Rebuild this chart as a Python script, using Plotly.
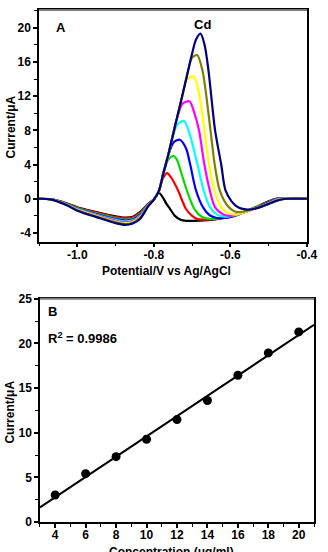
import numpy as np
import plotly.graph_objects as go

# ---------------- Panel A: voltammograms ----------------
x_black = [-1.1, -1.07, -1.03, -1.0, -0.95, -0.9, -0.875, -0.855, -0.835, -0.815, -0.8, -0.787, -0.777, -0.767, -0.757, -0.745, -0.73, -0.715, -0.68, -0.64, -0.6, -0.57, -0.545, -0.52, -0.5, -0.482, -0.47, -0.455, -0.4]
y_black = [0, -0.05, -0.5, -1.0, -1.55, -2.05, -2.2, -2.1, -1.5, -0.6, -0.05, 0.7, 0.2, -0.6, -1.23, -2.0, -2.45, -2.58, -2.55, -2.4, -2.1, -1.65, -1.2, -0.7, -0.3, 0.0, 0.05, 0.0, 0]

x_red = [-1.1, -1.07, -1.03, -1.0, -0.95, -0.9, -0.875, -0.855, -0.835, -0.815, -0.8, -0.787, -0.777, -0.766, -0.755, -0.737, -0.716, -0.7, -0.686, -0.65, -0.61, -0.575, -0.545, -0.52, -0.5, -0.48, -0.467, -0.455, -0.4]
y_red = [0, -0.05, -0.52, -1.05, -1.62, -2.15, -2.3, -2.2, -1.6, -0.64, -0.1, 0.9, 2.3, 3.0, 2.5, 1.0, -1.2, -2.0, -2.38, -2.4, -2.15, -1.7, -1.22, -0.75, -0.35, 0.0, 0.04, 0.0, 0]

x_green = [-1.1, -1.07, -1.03, -1.0, -0.95, -0.9, -0.875, -0.855, -0.835, -0.815, -0.8, -0.787, -0.775, -0.762, -0.749, -0.74, -0.735, -0.714, -0.694, -0.675, -0.655, -0.62, -0.58, -0.55, -0.52, -0.5, -0.478, -0.465, -0.452, -0.4]
y_green = [0, -0.06, -0.56, -1.12, -1.72, -2.28, -2.45, -2.33, -1.73, -0.69, -0.1, 0.9, 3.0, 4.6, 5.0, 4.6, 4.0, 1.0, -1.2, -2.1, -2.35, -2.25, -1.8, -1.27, -0.8, -0.4, 0.0, 0.03, 0.0, 0]

x_blue = [-1.1, -1.07, -1.03, -1.0, -0.95, -0.9, -0.875, -0.855, -0.835, -0.815, -0.8, -0.787, -0.775, -0.763, -0.748, -0.732, -0.716, -0.705, -0.69, -0.671, -0.655, -0.635, -0.6, -0.57, -0.545, -0.52, -0.5, -0.476, -0.462, -0.45, -0.4]
y_blue = [0, -0.06, -0.58, -1.16, -1.8, -2.38, -2.55, -2.43, -1.83, -0.72, -0.1, 0.9, 3.0, 5.0, 6.6, 6.9, 5.9, 4.0, 1.0, -1.04, -1.9, -2.25, -2.15, -1.7, -1.25, -0.85, -0.45, -0.02, 0.02, 0.0, 0]

x_cyan = [-1.1, -1.07, -1.03, -1.0, -0.95, -0.9, -0.875, -0.855, -0.835, -0.815, -0.8, -0.787, -0.775, -0.763, -0.753, -0.738, -0.721, -0.706, -0.686, -0.67, -0.653, -0.635, -0.615, -0.585, -0.56, -0.54, -0.52, -0.5, -0.475, -0.46, -0.45, -0.4]
y_cyan = [0, -0.06, -0.61, -1.21, -1.87, -2.47, -2.65, -2.52, -1.92, -0.76, -0.1, 0.9, 3.0, 5.0, 6.9, 8.7, 9.1, 7.5, 4.0, 1.0, -1.0, -1.85, -2.1, -1.9, -1.5, -1.2, -0.88, -0.5, -0.05, 0.01, 0.0, 0]

x_magenta = [-1.1, -1.07, -1.03, -1.0, -0.95, -0.9, -0.875, -0.855, -0.835, -0.815, -0.8, -0.787, -0.775, -0.763, -0.753, -0.742, -0.725, -0.707, -0.694, -0.682, -0.668, -0.654, -0.64, -0.62, -0.6, -0.575, -0.55, -0.52, -0.5, -0.474, -0.458, -0.45, -0.4]
y_magenta = [0, -0.06, -0.63, -1.26, -1.94, -2.57, -2.75, -2.62, -2.02, -0.8, -0.1, 0.9, 3.0, 5.0, 6.9, 9.0, 11.1, 11.4, 10.0, 8.0, 4.0, 1.0, -1.0, -1.8, -2.0, -1.75, -1.35, -0.9, -0.52, -0.07, 0.0, 0.0, 0]

x_yellow = [-1.1, -1.07, -1.03, -1.0, -0.95, -0.9, -0.875, -0.855, -0.835, -0.815, -0.8, -0.787, -0.775, -0.763, -0.753, -0.742, -0.729, -0.712, -0.696, -0.683, -0.668, -0.656, -0.642, -0.624, -0.605, -0.585, -0.565, -0.545, -0.52, -0.5, -0.473, -0.457, -0.4]
y_yellow = [0, -0.07, -0.65, -1.3, -2.0, -2.66, -2.85, -2.71, -2.11, -0.83, -0.1, 0.9, 3.0, 5.0, 6.9, 9.0, 11.4, 14.0, 14.3, 12.5, 8.0, 4.0, 1.0, -1.0, -1.7, -1.85, -1.6, -1.25, -0.92, -0.55, -0.1, 0.0, 0]

x_olive = [-1.1, -1.07, -1.03, -1.0, -0.95, -0.9, -0.875, -0.855, -0.835, -0.815, -0.8, -0.787, -0.775, -0.763, -0.753, -0.742, -0.729, -0.714, -0.7, -0.687, -0.673, -0.652, -0.641, -0.628, -0.607, -0.59, -0.57, -0.55, -0.52, -0.5, -0.472, -0.455, -0.4]
y_olive = [0, -0.07, -0.68, -1.35, -2.08, -2.75, -2.95, -2.8, -2.2, -0.86, -0.1, 0.9, 3.0, 5.0, 6.9, 9.0, 11.4, 14.3, 16.5, 16.8, 15.0, 8.0, 4.0, 1.0, -0.85, -1.45, -1.55, -1.3, -0.93, -0.58, -0.12, 0.0, 0]

x_navy = [-1.1, -1.07, -1.03, -1.0, -0.95, -0.9, -0.875, -0.855, -0.835, -0.815, -0.8, -0.787, -0.775, -0.763, -0.753, -0.742, -0.729, -0.714, -0.701, -0.69, -0.678, -0.667, -0.657, -0.64, -0.624, -0.613, -0.597, -0.58, -0.56, -0.54, -0.52, -0.5, -0.48, -0.46, -0.45, -0.4]
y_navy = [0, -0.07, -0.7, -1.4, -2.15, -2.85, -3.05, -2.9, -2.3, -0.9, -0.1, 0.9, 3.0, 5.0, 6.9, 9.0, 11.4, 14.3, 16.8, 18.6, 19.3, 17.9, 14.9, 8.0, 4.0, 1.0, -0.3, -1.0, -1.25, -1.2, -0.95, -0.6, -0.25, -0.03, 0.0, 0]

curves = [
    (x_black, y_black, "#000000"),
    (x_red, y_red, "#ff0000"),
    (x_green, y_green, "#00dd00"),
    (x_blue, y_blue, "#0000ff"),
    (x_cyan, y_cyan, "#00ffff"),
    (x_magenta, y_magenta, "#ff00ff"),
    (x_yellow, y_yellow, "#ffff00"),
    (x_olive, y_olive, "#808000"),
    (x_navy, y_navy, "#000080"),
]

potential_ticks = [-1.0, -0.8, -0.6, -0.4]
potential_labels = ["-1.0", "-0.8", "-0.6", "-0.4"]
currentA_ticks = [-4, 0, 4, 8, 12, 16, 20]
currentA_labels = ["-4", "0", "4", "8", "12", "16", "20"]

# ---------------- Panel B: calibration ----------------
concentration = [4, 6, 8, 10, 12, 14, 16, 18, 20]
current_B = [3.02, 5.41, 7.32, 9.27, 11.47, 13.61, 16.44, 18.94, 21.29]
conc_ticks = [4, 6, 8, 10, 12, 14, 16, 18, 20]
currentB_ticks = [0, 5, 10, 15, 20, 25]

FONT = "Liberation Sans, Arial, sans-serif"

fig = go.Figure()
for xs, ys, col in curves:
    fig.add_trace(go.Scatter(x=xs, y=ys, mode="lines", xaxis="x", yaxis="y",
                             line=dict(color=col, width=2.2, shape="spline", smoothing=0.8),
                             showlegend=False, hoverinfo="skip"))

slope, intercept = np.polyfit(concentration, current_B, 1)
fit_x = [3, 21]
fit_y = [slope * v + intercept for v in fit_x]
fig.add_trace(go.Scatter(x=fit_x, y=fit_y, mode="lines", xaxis="x2", yaxis="y2",
                         line=dict(color="black", width=2), showlegend=False))
fig.add_trace(go.Scatter(x=concentration, y=current_B, mode="markers", xaxis="x2", yaxis="y2",
                         marker=dict(color="black", size=9), showlegend=False))

tickfont = dict(family=FONT, size=12, color="black", weight="bold")
common = dict(showgrid=False, zeroline=False, showline=True, linecolor="black", linewidth=1.5,
              mirror=True, ticks="outside", ticklen=4, tickwidth=1.5, tickcolor="black",
              tickfont=tickfont)

fig.update_layout(
    width=328, height=552,
    margin=dict(l=39, r=4, t=3, b=30),
    paper_bgcolor="white", plot_bgcolor="white",
    xaxis=dict(domain=[0, 0.9744], range=[-1.1, -0.4], anchor="y",
               tickvals=potential_ticks, ticktext=potential_labels, ticklabelstandoff=-3,
               minor=dict(dtick=0.1, tick0=-1.1, ticks="outside", ticklen=3, tickwidth=1.2, tickcolor="black"),
               **common),
    yaxis=dict(domain=[0.5478, 1.0], range=[-5, 22.07], anchor="x",
               tickvals=currentA_ticks, ticktext=currentA_labels,
               minor=dict(dtick=2, tick0=0, ticks="outside", ticklen=3, tickwidth=1.2, tickcolor="black"),
               **common),
    xaxis2=dict(domain=[0.0035, 1.0], range=[3, 21], anchor="y2",
                tickvals=conc_ticks, ticklabelstandoff=-3,
                minor=dict(dtick=1, tick0=3, ticks="outside", ticklen=3, tickwidth=1.2, tickcolor="black"),
                **common),
    yaxis2=dict(domain=[0, 0.436], range=[0, 25], anchor="x2",
                tickvals=currentB_ticks,
                minor=dict(dtick=2.5, tick0=0, ticks="outside", ticklen=3, tickwidth=1.2, tickcolor="black"),
                **common),
)

# grey top frame edges as in the reference
for xr, yr in (("x domain", "y domain"), ("x2 domain", "y2 domain")):
    fig.add_shape(type="line", xref=xr, yref=yr, x0=0, x1=1, y0=1, y1=1,
                  line=dict(color="#7a7a7a", width=1.8))

def txt(text, x, y, size=12, angle=0, xanchor="center"):
    fig.add_annotation(text=text, x=x, y=y, xref="paper", yref="paper", showarrow=False,
                       textangle=angle, xanchor=xanchor, yanchor="middle",
                       font=dict(family=FONT, size=size, color="black", weight="bold"))

txt("Current/μA", -0.1018, 0.7707, angle=-90)
txt("Potential/V vs Ag/AgCl", 0.465, 0.4900)
txt("A", 0.0796, 0.9659, size=13)
txt("Cd", 0.593, 0.9724, size=13)
txt("Current/μA", -0.105, 0.2139, angle=-90)
txt("Concentration (μg/ml)", 0.4807, -0.0585)
txt("B", 0.0491, 0.4118, size=13)
txt("R<sup>2</sup> = 0.9986", 0.0246, 0.359, size=13, xanchor="left")

fig.write_html("out.html")
